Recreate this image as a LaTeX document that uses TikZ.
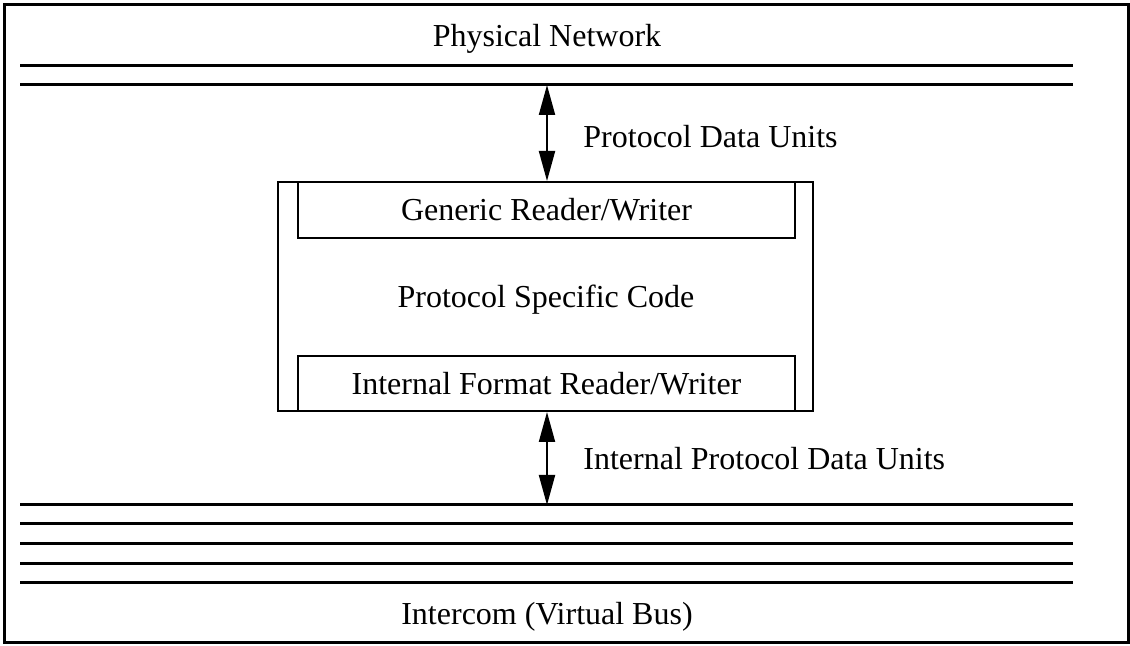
\documentclass[tikz,border=0pt]{standalone}
\usepackage{fontspec}
\setmainfont{Liberation Serif}
\usepackage{tikz}
\usetikzlibrary{arrows.meta,positioning,calc}

\tikzset{
	frame/.style = {line width=1.5pt},
	busline/.style = {line width=1.5pt},
	box/.style = {draw, line width=1pt, inner sep=0pt},
	txt/.style = {font=\fontsize{16}{19}\selectfont, inner sep=0pt},
	pdu/.style = {line width=1pt, {Triangle[width=8pt,length=15pt]}-{Triangle[width=8pt,length=15pt]}}
}

\begin{document}
\begin{tikzpicture}[x=0.5pt, y=-0.5pt]
		\useasboundingbox (0,0) rectangle (1130,646);
		\draw[frame] (4,5) rectangle (1128,642);
		
		% physical network
		\coordinate (NL) at (20,66);
		\coordinate (NR) at (1073,66);
		\coordinate (NL2) at (20,85);
		\coordinate (NR2) at (1073,85);
		\draw[busline] (NL) -- (NR);
		\draw[busline] (NL2) -- (NR2);
		\node[txt] (PN) at (547,39) {Physical Network};
		
		% protocol module
		\node[box, minimum width=267.5pt, minimum height=114.5pt] (PSC) at (545.5,296.5) {};
		\node[txt] (PSCtxt) at (546,300) {Protocol Specific Code};
		\node[box, txt, minimum width=248.5pt, minimum height=28pt] (GRW) at (546.5,210) {Generic Reader/Writer};
		\node[box, txt, minimum width=248.5pt, minimum height=27.5pt] (IRW) at (546.5,383.5) {Internal Format Reader/Writer};
		
		% intercom bus
		\foreach \y [count=\i] in {505,524,543,563,582}
			\draw[busline] (20,\y) coordinate (B\i) -- (1073,\y);
		\node[txt] (IC) at (547,617) {Intercom (Virtual Bus)};
		
		% data units
		\coordinate (PA) at (547,85);
		\draw[pdu] (PA) -- (PA |- PSC.north);
		\node[txt, anchor=west] (PDU) at (583,137) {Protocol Data Units};
		\coordinate (IA) at (547,505);
		\draw[pdu] (IA |- PSC.south) -- (IA);
		\node[txt, anchor=west] (IPDU) at (583,459) {Internal Protocol Data Units};
	\end{tikzpicture}
\end{document}
